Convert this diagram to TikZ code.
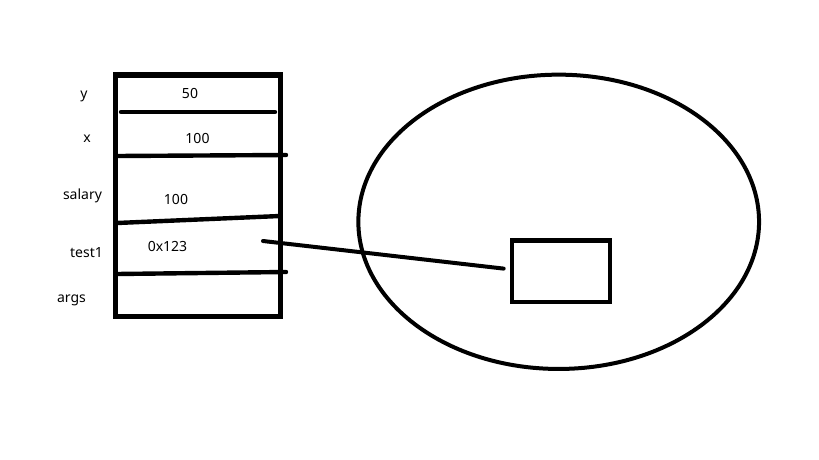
\documentclass[tikz,border=0pt]{standalone}
\usepackage{fontspec}
\setmainfont{Noto Sans}
\usetikzlibrary{shapes.geometric}
\tikzset{
  lbl/.style={anchor=base,inner sep=0pt,font=\fontsize{14}{16}\selectfont},
  thickline/.style={line width=4.4pt,line cap=round}
}
\begin{document}
\begin{tikzpicture}[x=1pt,y=-1pt]
			\useasboundingbox (0,0) rectangle (819,460);
			% stack
			\node[draw,line width=5pt,minimum width=165pt,minimum height=241.5pt,inner sep=0pt] (stack) at (198,195.75) {};
			\draw[thickline] (121,112) -- (275,112);
			\draw[thickline] (117,156) -- (286,155);
			\draw[thickline] (117,223) -- (280,216);
			\draw[thickline] (117,274) -- (286,272);
			% names
			\node[lbl] (ny) at (84,99) {y};
			\node[lbl] (nx) at (87,142) {x};
			\node[lbl] (nsal) at (82.5,199) {salary};
			\node[lbl] (ntest) at (86.5,257) {test1};
			\node[lbl] (nargs) at (71.5,302) {args};
			% values
			\node[lbl] (vy) at (190,98) {50};
			\node[lbl] (vx) at (197.5,143) {100};
			\node[lbl] (vsal) at (176,204) {100};
			\node[lbl] (vtest) at (167.5,251) {0x123};
			% heap
			\node[draw,ellipse,line width=4pt,minimum width=400.7pt,minimum height=294.3pt,inner sep=0pt] (heap) at (558.7,221.8) {};
			\node[draw,line width=4.2pt,minimum width=98.5pt,minimum height=61.2pt,inner sep=0pt] (obj) at (561,271.1) {};
			\coordinate (ptr) at (263,241);
			\draw[thickline,line width=4pt] (ptr) -- ([shift={(-6,-2.5)}]obj.west);
\end{tikzpicture}
\end{document}
